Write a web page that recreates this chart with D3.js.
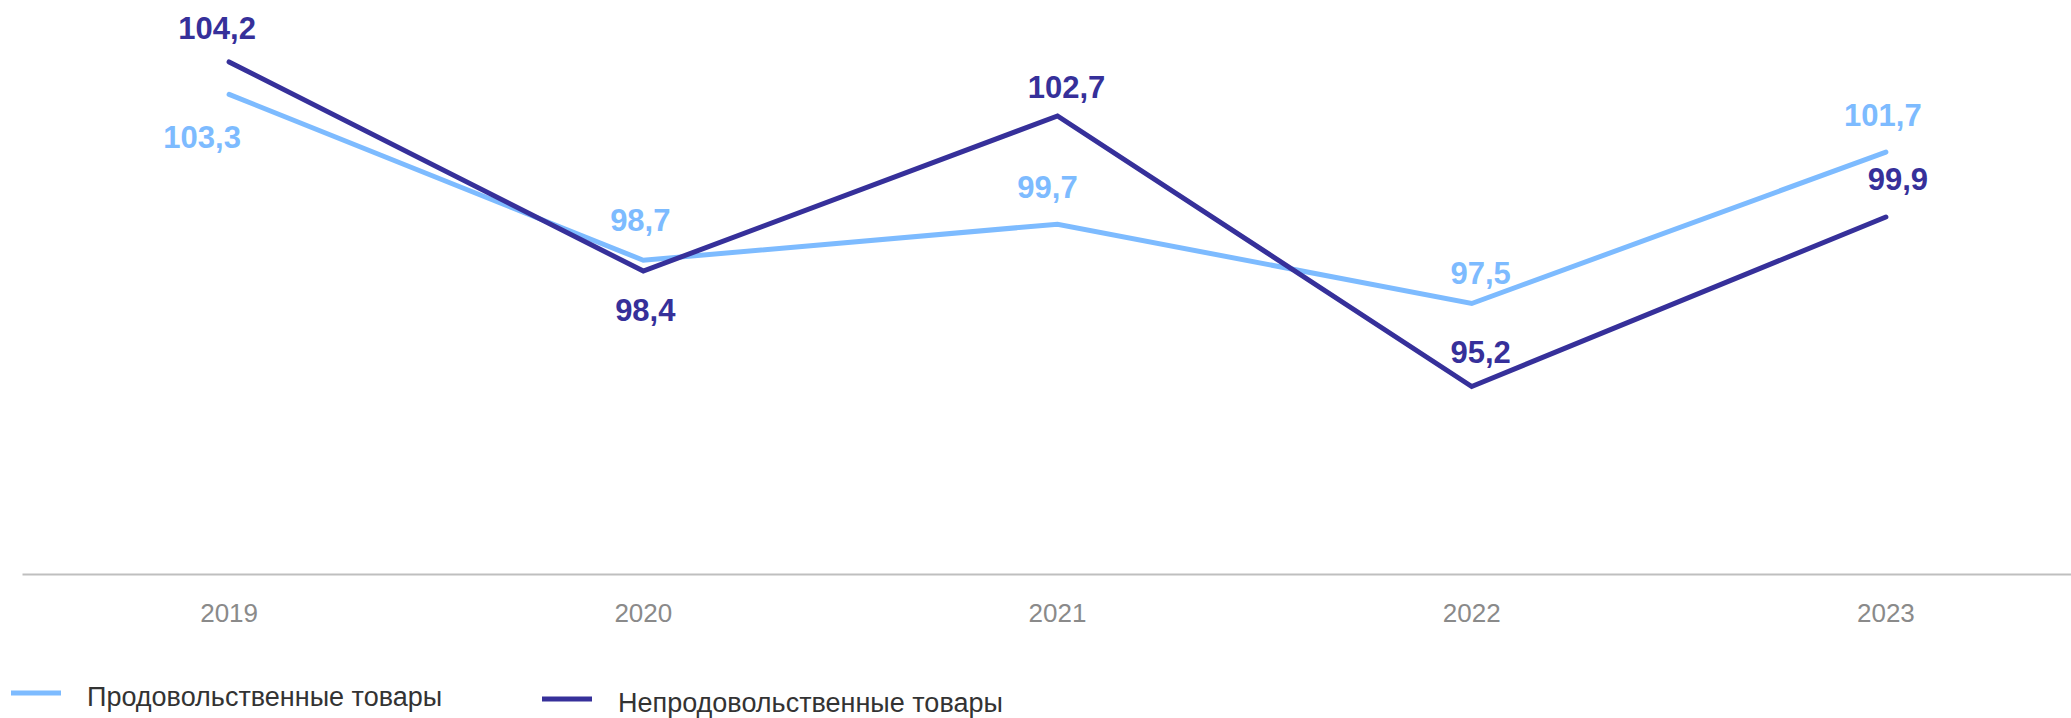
<!DOCTYPE html>
<html>
<head>
<meta charset="utf-8">
<script src="https://cdn.jsdelivr.net/npm/d3@7"></script>
<style>
  body { margin: 0; background: #ffffff; }
  svg { display: block; font-family: "Liberation Sans", Arial, sans-serif; }
</style>
</head>
<body>
<div id="viz"></div>
<script>
// data
var years = ["2019", "2020", "2021", "2022", "2023"];
var foodValues = [103.3, 98.7, 99.7, 97.5, 101.7];
var nonFoodValues = [104.2, 98.4, 102.7, 95.2, 99.9];
var seriesNames = ["Продовольственные товары", "Непродовольственные товары"];

// set the dimensions of the graph
var w = 2071;
var h = 718;

var colors = ["#7dbbff", "#36309a"];

// label placement for each point: [dx, dy] from the point to the label baseline
var foodLabelPos = [[-27, 54], [-3, -29], [-10, -26], [9, -20], [-3, -26]];
var nonFoodLabelPos = [[-12, -23], [2, 50], [9, -18], [9, -23], [12, -27]];

var svg = d3.select("div#viz")
  .append("svg")
  .attr("width", w)
  .attr("height", h);

var x = d3.scaleBand().domain(years).range([22, 2093]);
var y = d3.scaleLinear().domain([90, 106]).range([574, -3]);

var cx = function (d) { return x(d) + x.bandwidth() / 2; };

// x axis: a plain grey baseline with year labels
var xAxis = d3.axisBottom(x).tickSize(0).tickPadding(30);
var axisG = svg.append("g")
  .attr("transform", "translate(0," + y(90) + ")")
  .call(xAxis);

axisG.select(".domain")
  .attr("stroke", "#bfbfbf")
  .attr("stroke-width", 2);

axisG.selectAll("text")
  .attr("fill", "#8a8a8a")
  .style("font-size", "26px")
  .style("font-family", "'Liberation Sans', Arial, sans-serif");

// plot the lines
var series = [
  { name: seriesNames[0], values: foodValues, color: colors[0], pos: foodLabelPos },
  { name: seriesNames[1], values: nonFoodValues, color: colors[1], pos: nonFoodLabelPos }
];

var line = d3.line()
  .x(function (d, i) { return cx(years[i]); })
  .y(function (d) { return y(d); });

series.forEach(function (s) {
  svg.append("path")
    .datum(s.values)
    .attr("d", line)
    .attr("fill", "none")
    .attr("stroke", s.color)
    .attr("stroke-width", 5)
    .attr("stroke-linecap", "round")
    .attr("stroke-linejoin", "miter");
});

// value labels
series.forEach(function (s) {
  svg.append("g").selectAll("text")
    .data(s.values)
    .enter()
    .append("text")
    .attr("x", function (d, i) { return cx(years[i]) + s.pos[i][0]; })
    .attr("y", function (d, i) { return y(d) + s.pos[i][1]; })
    .attr("text-anchor", "middle")
    .attr("fill", s.color)
    .style("font-size", "31px")
    .style("font-weight", "bold")
    .text(function (d) { return d.toFixed(1).replace(".", ","); });
});

// legend
var legendX = [11, 542];
var legendY = [693, 699];

var legend = svg.append("g").selectAll("g")
  .data(series)
  .enter()
  .append("g")
  .attr("transform", function (d, i) { return "translate(" + legendX[i] + "," + legendY[i] + ")"; });

legend.append("line")
  .attr("x1", 0)
  .attr("x2", 50)
  .attr("y1", 0)
  .attr("y2", 0)
  .attr("stroke", function (d) { return d.color; })
  .attr("stroke-width", 5);

legend.append("text")
  .attr("x", 76)
  .attr("y", 13)
  .attr("fill", "#333333")
  .style("font-size", "27px")
  .text(function (d) { return d.name; });
</script>
</body>
</html>
